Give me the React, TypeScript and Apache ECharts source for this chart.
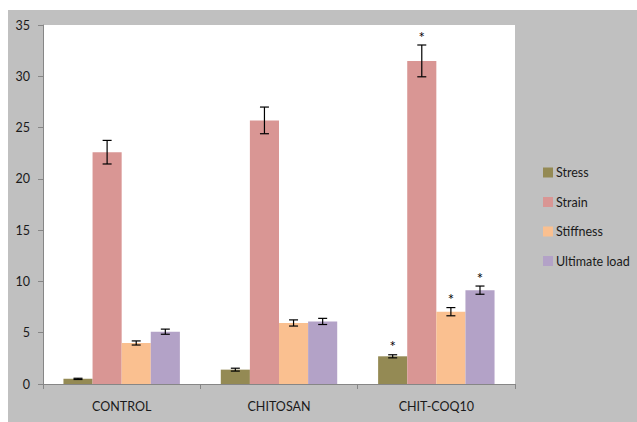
import React, { useEffect, useRef } from "react";
import * as echarts from "echarts";

const categories = ["CONTROL", "CHITOSAN", "CHIT-COQ10"];
const seriesNames = ["Stress", "Strain", "Stiffness", "Ultimate load"];
const stress = [0.5, 1.4, 2.7];
const stressErr = [0.06, 0.14, 0.15];
const strain = [22.6, 25.7, 31.5];
const strainErr = [1.15, 1.3, 1.55];
const stiffness = [4.0, 5.95, 7.05];
const stiffnessErr = [0.2, 0.3, 0.4];
const ultimate = [5.1, 6.1, 9.15];
const ultimateErr = [0.25, 0.3, 0.4];
const significant = [false, false, true];
const yTicks = [0, 5, 10, 15, 20, 25, 30, 35];
const colors = ["#948a54", "#d99694", "#fac090", "#b3a2c7"];

const values = [stress, strain, stiffness, ultimate];
const errors = [stressErr, strainErr, stiffnessErr, ultimateErr];

const FONT = "Lato";
const CAT_GAP = 0.26;

export default function App() {
  const ref = useRef<HTMLDivElement>(null);
  useEffect(() => {
    if (!ref.current) return;
    const chart = echarts.init(ref.current, null, { renderer: "svg" });

    const errData: any[] = [];
    values.forEach((vals, s) => {
      vals.forEach((v, c) => {
        errData.push([c, v, errors[s][c], s, significant[c] ? 1 : 0]);
      });
    });

    const option: any = {
      animation: false,
      backgroundColor: "#ffffff",
      textStyle: { fontFamily: FONT },
      graphic: [
        {
          type: "rect",
          z: -10,
          silent: true,
          shape: { x: 8, y: 10, width: 629, height: 412 },
          style: { fill: "#c0c0c0" },
        },
      ],
      grid: {
        left: 43,
        top: 25,
        width: 472,
        height: 359,
        show: true,
        backgroundColor: "#ffffff",
        borderWidth: 0,
        containLabel: false,
      },
      legend: {
        orient: "vertical",
        left: 538,
        top: 161,
        itemWidth: 10,
        itemHeight: 10,
        itemGap: 16.5,
        icon: "rect",
        data: seriesNames,
        textStyle: { fontFamily: FONT, fontSize: 12.5, color: "#1a1a1a", padding: [0, 0, 0, -2] },
      },
      xAxis: {
        type: "category",
        data: categories,
        axisLine: { show: true, lineStyle: { color: "#868686", width: 1 } },
        axisTick: { show: true, length: 5, alignWithLabel: false, lineStyle: { color: "#868686" } },
        axisLabel: { fontFamily: FONT, fontSize: 12.5, color: "#1a1a1a", margin: 16 },
        splitLine: { show: false },
      },
      yAxis: {
        type: "value",
        min: yTicks[0],
        max: yTicks[yTicks.length - 1],
        interval: 5,
        axisLine: { show: true, lineStyle: { color: "#868686", width: 1 } },
        axisTick: { show: true, length: 5, lineStyle: { color: "#868686" } },
        axisLabel: { fontFamily: FONT, fontSize: 12.5, color: "#1a1a1a", margin: 13 },
        splitLine: { show: false },
      },
      series: [
        ...seriesNames.map((name, s) => ({
          name,
          type: "bar",
          data: values[s],
          barGap: "0%",
          barCategoryGap: CAT_GAP * 100 + "%",
          itemStyle: { color: colors[s] },
        })),
        {
          type: "custom",
          name: "errors",
          data: errData,
          z: 10,
          itemStyle: { color: "#000000" },
          renderItem: (params: any, api: any) => {
            const c = api.value(0);
            const v = api.value(1);
            const e = api.value(2);
            const s = api.value(3);
            const sig = api.value(4);
            const band = api.size([1, 0])[0];
            const barW = (band * (1 - CAT_GAP)) / 4;
            const center = api.coord([c, v]);
            const x = center[0] + (s - 1.5) * barW;
            const top = api.coord([c, v + e])[1];
            const bot = api.coord([c, v - e])[1];
            const cap = 4.5;
            const ls = { stroke: "#000000", lineWidth: 1.2 };
            const children: any[] = [
              { type: "line", shape: { x1: x, y1: top, x2: x, y2: bot }, style: ls },
              { type: "line", shape: { x1: x - cap, y1: top, x2: x + cap, y2: top }, style: ls },
              { type: "line", shape: { x1: x - cap, y1: bot, x2: x + cap, y2: bot }, style: ls },
            ];
            if (sig) {
              children.push({
                type: "text",
                style: {
                  text: "*",
                  x: x,
                  y: top - 1,
                  align: "center",
                  verticalAlign: "bottom",
                  fontSize: 15,
                  fontFamily: FONT,
                  fill: "#000000",
                  stroke: "none",
                },
              });
            }
            return { type: "group", children };
          },
        },
      ],
    };
    chart.setOption(option);
    return () => chart.dispose();
  }, []);
  return (
    <div
      ref={ref}
      style={{ position: "fixed", left: 0, top: 0, width: 637, height: 422 }}
    />
  );
}
